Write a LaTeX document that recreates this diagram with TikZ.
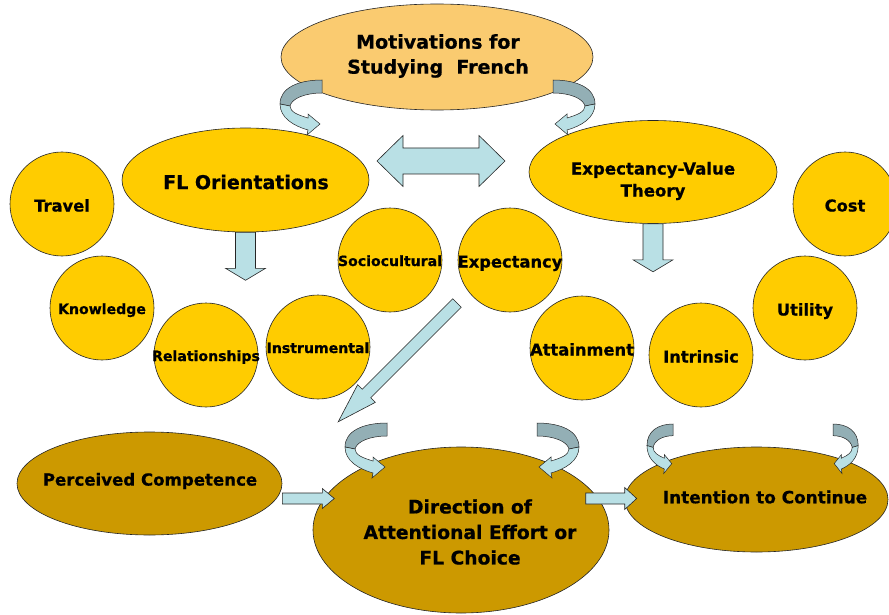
\documentclass[tikz,border=0pt]{standalone}
\usepackage{fontspec}
\setmainfont{DejaVu Sans}[BoldFont={DejaVu Sans Bold}, BoldFeatures={FakeBold=0.7}]
\usepackage{tikz}
\usetikzlibrary{positioning, shapes.geometric, calc}
\definecolor{oro}{RGB}{255, 204, 0}
\definecolor{ocre}{RGB}{204, 153, 0}
\definecolor{melon}{RGB}{250, 203, 112}
\definecolor{hielo}{RGB}{185, 224, 229}
\definecolor{pizarra}{RGB}{147, 175, 181}
\tikzset{
    bub/.style={draw, circle, fill=oro, draw=black!85, line width=0.6pt, minimum size=104pt, inner sep=0pt, text height=15pt, text depth=0pt, font=\bfseries\fontsize{16.3}{19}\selectfont},
    bubS/.style={bub, text height=12pt, font=\bfseries\fontsize{14.1}{17}\selectfont},
    oval/.style={draw, ellipse, fill=oro, draw=black!85, line width=0.6pt, inner sep=0pt},
    ovalTop/.style={oval, fill=melon},
    ovalLow/.style={oval, fill=ocre},
    lbl/.style={align=center, font=\bfseries\fontsize{16.6}{22}\selectfont},
    blk/.style={draw=black!85, line width=0.6pt, fill=hielo, line join=miter},
    curlBack/.style={draw=black!85, line width=0.5pt, fill=pizarra},
    curlFront/.style={draw=black!85, line width=0.5pt, fill=hielo},
}
\newcommand{\centred}[1]{\makebox[0pt]{#1}}
\newcommand{\curlarrow}[4]{
    \begin{scope}[shift={(#1,#2)}, xscale=#3, yscale=#4]
        \draw[curlBack] (0,0) .. controls (-24,0) and (-42,8) .. (-42,24) -- (-32,26) .. controls (-30,18) and (-16,13) .. (0,13) -- cycle;
        \draw[curlFront] (-42,24) .. controls (-42,38) and (-28,46) .. (-14,50) -- (-15,55) -- (-2,44) -- (-14,34) -- (-14,38) .. controls (-24,35) and (-32,32) .. (-32,26) -- cycle;
    \end{scope}
}

\begin{document}
\begin{tikzpicture}[x=1pt, y=-1pt]
        \useasboundingbox (0,0) rectangle (889,615);

        \node [ovalTop, minimum width=312pt, minimum height=106pt] (mot) at (437,57) {};
        \node [oval, minimum width=247pt, minimum height=104pt] (flo) at (245.5,180) {};
        \node [oval, minimum width=248pt, minimum height=103pt] (evt) at (653,172) {};
        \node [ovalLow, minimum width=265pt, minimum height=103pt] (perc) at (149.5,483.5) {};
        \node [ovalLow, minimum width=296pt, minimum height=166pt] (dir) at (461,530) {};
        \node [ovalLow, minimum width=263pt, minimum height=105pt] (int) at (756.5,499.5) {};

        \node [lbl, font=\bfseries\fontsize{19}{25}\selectfont] (motT) at (438,56) {Motivations for\\Studying\ \ French};
        \node [lbl, font=\bfseries\fontsize{19}{25}\selectfont] (floT) at (246,182) {FL Orientations};
        \node [lbl] (evtT) at (653,181) {Expectancy-Value\\Theory};
        \node [lbl] (percT) at (150,481) {Perceived Competence};
        \node [lbl, font=\bfseries\fontsize{18.7}{25.5}\selectfont] (dirT) at (470,532) {Direction of\\Attentional Effort or\\FL Choice};
        \node [lbl, font=\bfseries\fontsize{16.9}{22}\selectfont] (intT) at (765,497) {Intention to Continue};

        \node [bub] (travel) at (62,204) {\centred{Travel}};
        \node [bubS] (know) at (102,308) {\centred{Knowledge}};
        \node [bubS] (rel) at (206,355) {\centred{Relationships}};
        \node [bubS] (instr) at (318,347) {\centred{Instrumental}};
        \node [bubS] (socio) at (390,260) {\centred{Sociocultural}};
        \node [bub] (expc) at (510,260) {\centred{Expectancy}};
        \node [bub] (attain) at (582,348) {\centred{Attainment}};
        \node [bub] (intr) at (701,355) {\centred{Intrinsic}};
        \node [bub] (util) at (805,308) {\centred{Utility}};
        \node [bub] (cost) at (845,204) {\centred{Cost}};

        \coordinate (dbl) at (441,161);
        \draw[blk, shift={(dbl)}] (-64,0) -- (-38,-25.5) -- (-38,-13) -- (38,-13) -- (38,-25.5) -- (64,0) -- (38,25.5) -- (38,13) -- (-38,13) -- (-38,25.5) -- cycle;
        \draw[blk, shift={(flo.south)}] (-10,0) -- (-10,36) -- (-20,36) -- (0,48) -- (20,36) -- (10,36) -- (10,0) -- cycle;
        \draw[blk, shift={(evt.south)}] (-10,0) -- (-10,36) -- (-20,36) -- (0,48) -- (20,36) -- (10,36) -- (10,0) -- cycle;
        \draw[blk, shift={(457,303)}, rotate=225] (0,-6) -- (128,-6) -- (128,-12.5) -- (168,0) -- (128,12.5) -- (128,6) -- (0,6) -- cycle;
        \draw[blk, shift={($(perc.east)+(0,15)$)}] (0,-5.5) -- (40,-5.5) -- (40,-10) -- (52,0) -- (40,10) -- (40,5.5) -- (0,5.5) -- cycle;
        \draw[blk, shift={($(int.west)+(-39,-1)$)}] (0,-5.5) -- (39,-5.5) -- (39,-11) -- (51,0) -- (39,11) -- (39,5.5) -- (0,5.5) -- cycle;

        \curlarrow{322}{80}{1}{1}
        \curlarrow{553}{80}{-1}{1}
        \curlarrow{387}{423}{1}{1}
        \curlarrow{537}{423}{-1}{1}
        \curlarrow{673}{424}{0.62}{0.9}
        \curlarrow{833}{424}{-0.6}{0.9}
\end{tikzpicture}
\end{document}
